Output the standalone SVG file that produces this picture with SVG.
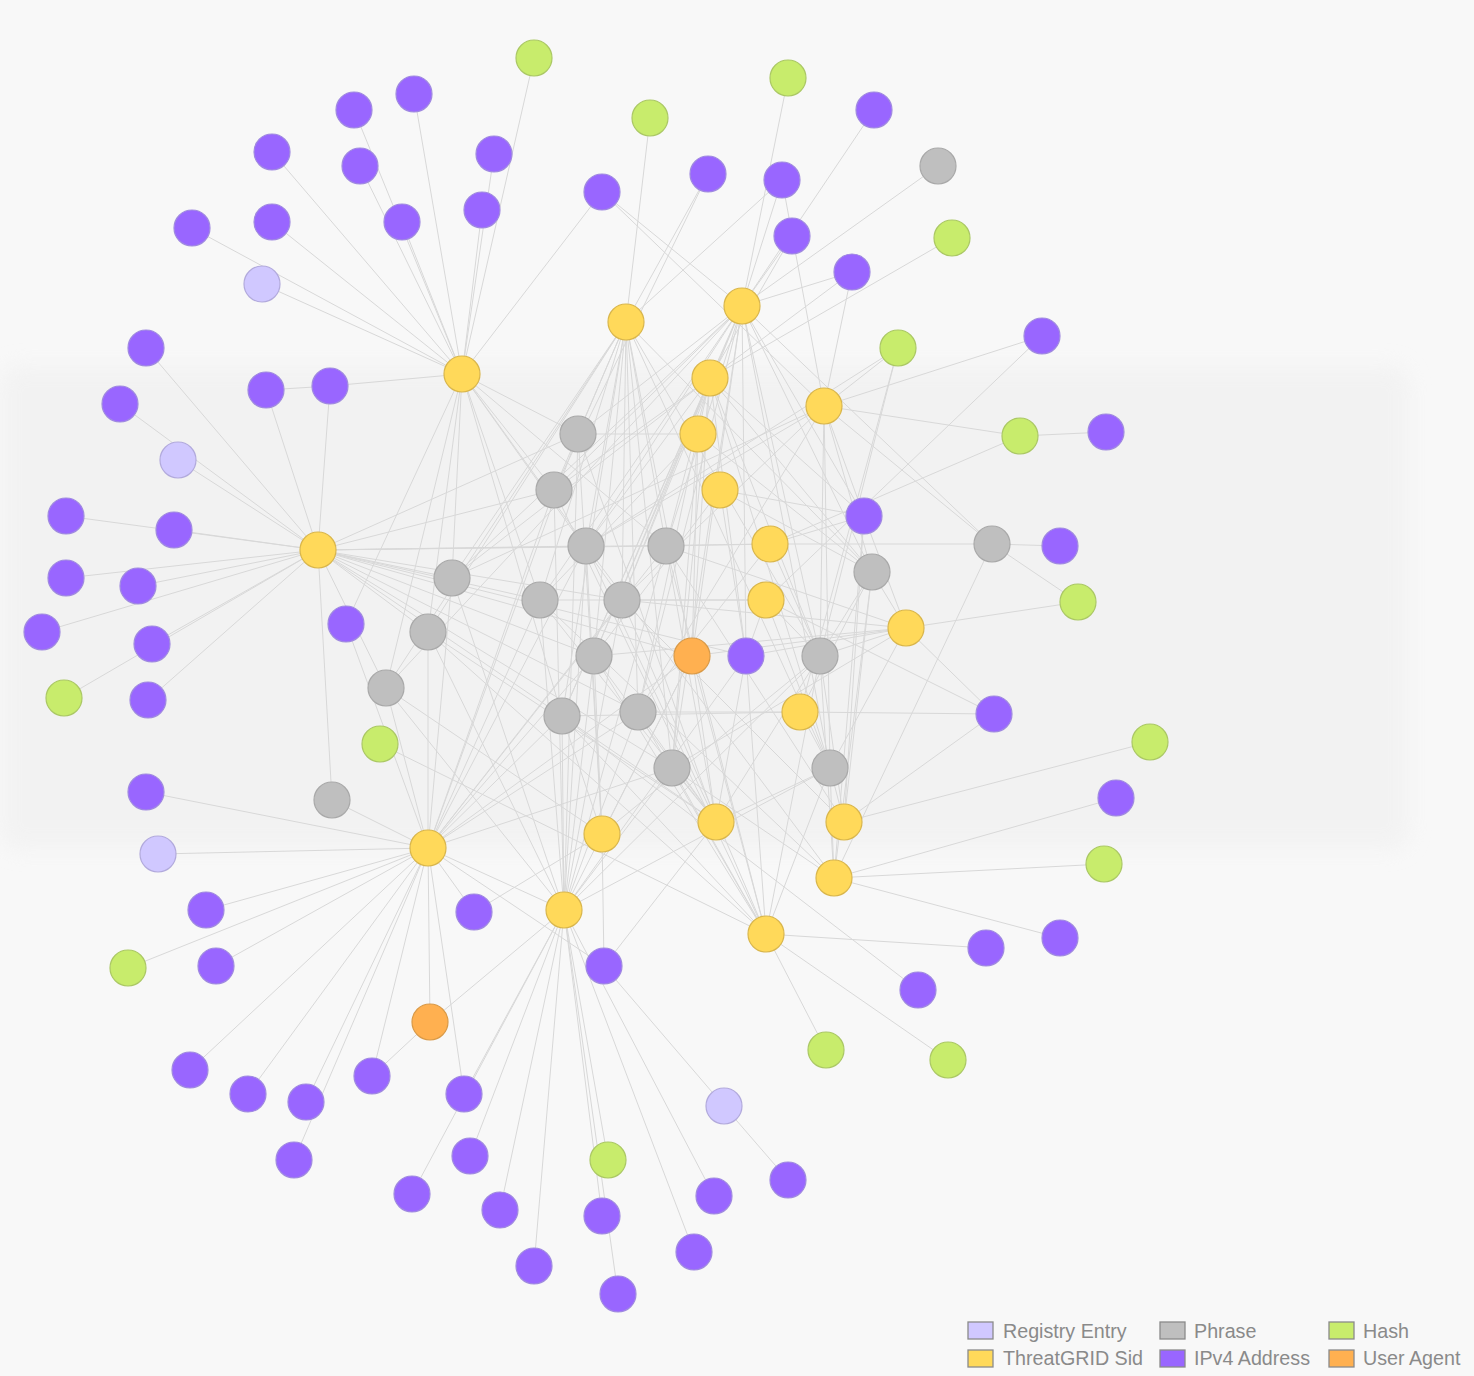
<svg xmlns="http://www.w3.org/2000/svg" width="1474" height="1376" viewBox="0 0 1474 1376">
<defs>
<style>
.e line{stroke:#d8d8d8;stroke-width:1;fill:none}
.n circle{stroke-width:1.2}
.ip circle{fill:#9966ff;stroke:#a08ae0}
.ts circle{fill:#ffd95a;stroke:#d9b64c}
.ph circle{fill:#bfbfbf;stroke:#a9a9a9}
.hs circle{fill:#c8ec6c;stroke:#abc865}
.re circle{fill:#d0c8ff;stroke:#b2aadc}
.ua circle{fill:#ffb050;stroke:#d99a48}
.lg rect{stroke:#8a8a8a;stroke-width:1.3}
.lg text{font-family:"Liberation Sans",Arial,sans-serif;font-size:19.7px;fill:#8a8a8a}
</style>
<filter id="bl" x="-5%" y="-10%" width="110%" height="120%"><feGaussianBlur stdDeviation="10"/></filter>
</defs>
<rect width="1474" height="1376" fill="#f8f8f8"/>
<g id="watermark" filter="url(#bl)" fill="#efefef" opacity="0.6">
<rect x="0" y="365" width="1410" height="485" rx="20"/>
</g>
<g id="connectors" class="e">
<line x1="534" y1="58" x2="462" y2="374"/>
<line x1="414" y1="94" x2="462" y2="374"/>
<line x1="354" y1="110" x2="462" y2="374"/>
<line x1="360" y1="166" x2="462" y2="374"/>
<line x1="272" y1="152" x2="462" y2="374"/>
<line x1="272" y1="222" x2="462" y2="374"/>
<line x1="192" y1="228" x2="462" y2="374"/>
<line x1="262" y1="284" x2="462" y2="374"/>
<line x1="402" y1="222" x2="462" y2="374"/>
<line x1="494" y1="154" x2="462" y2="374"/>
<line x1="482" y1="210" x2="462" y2="374"/>
<line x1="602" y1="192" x2="462" y2="374"/>
<line x1="330" y1="386" x2="462" y2="374"/>
<line x1="266" y1="390" x2="330" y2="386"/>
<line x1="146" y1="348" x2="318" y2="550"/>
<line x1="120" y1="404" x2="318" y2="550"/>
<line x1="178" y1="460" x2="318" y2="550"/>
<line x1="266" y1="390" x2="318" y2="550"/>
<line x1="330" y1="386" x2="318" y2="550"/>
<line x1="66" y1="516" x2="318" y2="550"/>
<line x1="174" y1="530" x2="318" y2="550"/>
<line x1="66" y1="578" x2="318" y2="550"/>
<line x1="138" y1="586" x2="318" y2="550"/>
<line x1="42" y1="632" x2="318" y2="550"/>
<line x1="152" y1="644" x2="318" y2="550"/>
<line x1="64" y1="698" x2="318" y2="550"/>
<line x1="148" y1="700" x2="318" y2="550"/>
<line x1="346" y1="624" x2="462" y2="374"/>
<line x1="346" y1="624" x2="428" y2="848"/>
<line x1="318" y1="550" x2="332" y2="800"/>
<line x1="332" y1="800" x2="428" y2="848"/>
<line x1="146" y1="792" x2="428" y2="848"/>
<line x1="158" y1="854" x2="428" y2="848"/>
<line x1="206" y1="910" x2="428" y2="848"/>
<line x1="128" y1="968" x2="428" y2="848"/>
<line x1="216" y1="966" x2="428" y2="848"/>
<line x1="190" y1="1070" x2="428" y2="848"/>
<line x1="248" y1="1094" x2="428" y2="848"/>
<line x1="306" y1="1102" x2="428" y2="848"/>
<line x1="294" y1="1160" x2="428" y2="848"/>
<line x1="372" y1="1076" x2="428" y2="848"/>
<line x1="372" y1="1076" x2="430" y2="1022"/>
<line x1="430" y1="1022" x2="428" y2="848"/>
<line x1="430" y1="1022" x2="564" y2="910"/>
<line x1="464" y1="1094" x2="428" y2="848"/>
<line x1="474" y1="912" x2="428" y2="848"/>
<line x1="474" y1="912" x2="602" y2="834"/>
<line x1="412" y1="1194" x2="564" y2="910"/>
<line x1="464" y1="1094" x2="564" y2="910"/>
<line x1="470" y1="1156" x2="564" y2="910"/>
<line x1="500" y1="1210" x2="564" y2="910"/>
<line x1="534" y1="1266" x2="564" y2="910"/>
<line x1="608" y1="1160" x2="564" y2="910"/>
<line x1="602" y1="1216" x2="564" y2="910"/>
<line x1="618" y1="1294" x2="564" y2="910"/>
<line x1="428" y1="848" x2="604" y2="966"/>
<line x1="428" y1="848" x2="564" y2="910"/>
<line x1="602" y1="834" x2="604" y2="966"/>
<line x1="604" y1="966" x2="716" y2="822"/>
<line x1="604" y1="966" x2="724" y2="1106"/>
<line x1="724" y1="1106" x2="788" y2="1180"/>
<line x1="714" y1="1196" x2="564" y2="910"/>
<line x1="694" y1="1252" x2="564" y2="910"/>
<line x1="766" y1="934" x2="986" y2="948"/>
<line x1="766" y1="934" x2="826" y2="1050"/>
<line x1="766" y1="934" x2="948" y2="1060"/>
<line x1="834" y1="878" x2="1104" y2="864"/>
<line x1="834" y1="878" x2="1060" y2="938"/>
<line x1="834" y1="878" x2="1116" y2="798"/>
<line x1="844" y1="822" x2="1150" y2="742"/>
<line x1="844" y1="822" x2="994" y2="714"/>
<line x1="800" y1="712" x2="994" y2="714"/>
<line x1="766" y1="600" x2="994" y2="714"/>
<line x1="906" y1="628" x2="994" y2="714"/>
<line x1="906" y1="628" x2="1078" y2="602"/>
<line x1="992" y1="544" x2="1060" y2="546"/>
<line x1="992" y1="544" x2="1078" y2="602"/>
<line x1="742" y1="306" x2="992" y2="544"/>
<line x1="824" y1="406" x2="992" y2="544"/>
<line x1="770" y1="544" x2="992" y2="544"/>
<line x1="992" y1="544" x2="834" y2="878"/>
<line x1="824" y1="406" x2="1020" y2="436"/>
<line x1="770" y1="544" x2="1020" y2="436"/>
<line x1="1020" y1="436" x2="1106" y2="432"/>
<line x1="824" y1="406" x2="1042" y2="336"/>
<line x1="1042" y1="336" x2="766" y2="600"/>
<line x1="898" y1="348" x2="824" y2="406"/>
<line x1="898" y1="348" x2="586" y2="546"/>
<line x1="898" y1="348" x2="800" y2="712"/>
<line x1="898" y1="348" x2="820" y2="656"/>
<line x1="952" y1="238" x2="710" y2="378"/>
<line x1="938" y1="166" x2="742" y2="306"/>
<line x1="874" y1="110" x2="742" y2="306"/>
<line x1="852" y1="272" x2="742" y2="306"/>
<line x1="852" y1="272" x2="710" y2="378"/>
<line x1="852" y1="272" x2="824" y2="406"/>
<line x1="792" y1="236" x2="742" y2="306"/>
<line x1="792" y1="236" x2="710" y2="378"/>
<line x1="782" y1="180" x2="824" y2="406"/>
<line x1="782" y1="180" x2="626" y2="322"/>
<line x1="782" y1="180" x2="742" y2="306"/>
<line x1="708" y1="174" x2="626" y2="322"/>
<line x1="708" y1="174" x2="554" y2="490"/>
<line x1="650" y1="118" x2="626" y2="322"/>
<line x1="788" y1="78" x2="742" y2="306"/>
<line x1="602" y1="192" x2="742" y2="306"/>
<line x1="602" y1="192" x2="824" y2="406"/>
<line x1="380" y1="744" x2="766" y2="934"/>
<line x1="918" y1="990" x2="562" y2="716"/>
<line x1="318" y1="550" x2="770" y2="544"/>
<line x1="562" y1="716" x2="800" y2="712"/>
<line x1="578" y1="434" x2="462" y2="374"/>
<line x1="578" y1="434" x2="318" y2="550"/>
<line x1="578" y1="434" x2="626" y2="322"/>
<line x1="578" y1="434" x2="742" y2="306"/>
<line x1="578" y1="434" x2="698" y2="434"/>
<line x1="578" y1="434" x2="428" y2="848"/>
<line x1="578" y1="434" x2="602" y2="834"/>
<line x1="578" y1="434" x2="564" y2="910"/>
<line x1="578" y1="434" x2="716" y2="822"/>
<line x1="554" y1="490" x2="462" y2="374"/>
<line x1="554" y1="490" x2="318" y2="550"/>
<line x1="554" y1="490" x2="626" y2="322"/>
<line x1="554" y1="490" x2="742" y2="306"/>
<line x1="554" y1="490" x2="710" y2="378"/>
<line x1="554" y1="490" x2="428" y2="848"/>
<line x1="554" y1="490" x2="564" y2="910"/>
<line x1="554" y1="490" x2="766" y2="934"/>
<line x1="586" y1="546" x2="462" y2="374"/>
<line x1="586" y1="546" x2="318" y2="550"/>
<line x1="586" y1="546" x2="626" y2="322"/>
<line x1="586" y1="546" x2="742" y2="306"/>
<line x1="586" y1="546" x2="710" y2="378"/>
<line x1="586" y1="546" x2="824" y2="406"/>
<line x1="586" y1="546" x2="428" y2="848"/>
<line x1="586" y1="546" x2="564" y2="910"/>
<line x1="586" y1="546" x2="602" y2="834"/>
<line x1="586" y1="546" x2="716" y2="822"/>
<line x1="586" y1="546" x2="834" y2="878"/>
<line x1="666" y1="546" x2="462" y2="374"/>
<line x1="666" y1="546" x2="318" y2="550"/>
<line x1="666" y1="546" x2="626" y2="322"/>
<line x1="666" y1="546" x2="742" y2="306"/>
<line x1="666" y1="546" x2="710" y2="378"/>
<line x1="666" y1="546" x2="770" y2="544"/>
<line x1="666" y1="546" x2="906" y2="628"/>
<line x1="666" y1="546" x2="428" y2="848"/>
<line x1="666" y1="546" x2="564" y2="910"/>
<line x1="666" y1="546" x2="716" y2="822"/>
<line x1="666" y1="546" x2="844" y2="822"/>
<line x1="666" y1="546" x2="766" y2="934"/>
<line x1="452" y1="578" x2="318" y2="550"/>
<line x1="452" y1="578" x2="462" y2="374"/>
<line x1="452" y1="578" x2="626" y2="322"/>
<line x1="452" y1="578" x2="742" y2="306"/>
<line x1="452" y1="578" x2="710" y2="378"/>
<line x1="452" y1="578" x2="824" y2="406"/>
<line x1="452" y1="578" x2="428" y2="848"/>
<line x1="452" y1="578" x2="564" y2="910"/>
<line x1="540" y1="600" x2="318" y2="550"/>
<line x1="540" y1="600" x2="462" y2="374"/>
<line x1="540" y1="600" x2="626" y2="322"/>
<line x1="540" y1="600" x2="742" y2="306"/>
<line x1="540" y1="600" x2="698" y2="434"/>
<line x1="540" y1="600" x2="766" y2="600"/>
<line x1="540" y1="600" x2="428" y2="848"/>
<line x1="540" y1="600" x2="564" y2="910"/>
<line x1="540" y1="600" x2="716" y2="822"/>
<line x1="540" y1="600" x2="834" y2="878"/>
<line x1="622" y1="600" x2="318" y2="550"/>
<line x1="622" y1="600" x2="462" y2="374"/>
<line x1="622" y1="600" x2="626" y2="322"/>
<line x1="622" y1="600" x2="742" y2="306"/>
<line x1="622" y1="600" x2="710" y2="378"/>
<line x1="622" y1="600" x2="824" y2="406"/>
<line x1="622" y1="600" x2="766" y2="600"/>
<line x1="622" y1="600" x2="906" y2="628"/>
<line x1="622" y1="600" x2="428" y2="848"/>
<line x1="622" y1="600" x2="564" y2="910"/>
<line x1="622" y1="600" x2="766" y2="934"/>
<line x1="622" y1="600" x2="844" y2="822"/>
<line x1="594" y1="656" x2="318" y2="550"/>
<line x1="594" y1="656" x2="626" y2="322"/>
<line x1="594" y1="656" x2="742" y2="306"/>
<line x1="594" y1="656" x2="710" y2="378"/>
<line x1="594" y1="656" x2="720" y2="490"/>
<line x1="594" y1="656" x2="906" y2="628"/>
<line x1="594" y1="656" x2="428" y2="848"/>
<line x1="594" y1="656" x2="564" y2="910"/>
<line x1="594" y1="656" x2="602" y2="834"/>
<line x1="594" y1="656" x2="716" y2="822"/>
<line x1="594" y1="656" x2="766" y2="934"/>
<line x1="820" y1="656" x2="626" y2="322"/>
<line x1="820" y1="656" x2="742" y2="306"/>
<line x1="820" y1="656" x2="710" y2="378"/>
<line x1="820" y1="656" x2="824" y2="406"/>
<line x1="820" y1="656" x2="906" y2="628"/>
<line x1="820" y1="656" x2="770" y2="544"/>
<line x1="820" y1="656" x2="766" y2="600"/>
<line x1="820" y1="656" x2="564" y2="910"/>
<line x1="820" y1="656" x2="602" y2="834"/>
<line x1="820" y1="656" x2="844" y2="822"/>
<line x1="820" y1="656" x2="834" y2="878"/>
<line x1="820" y1="656" x2="766" y2="934"/>
<line x1="872" y1="572" x2="626" y2="322"/>
<line x1="872" y1="572" x2="742" y2="306"/>
<line x1="872" y1="572" x2="710" y2="378"/>
<line x1="872" y1="572" x2="824" y2="406"/>
<line x1="872" y1="572" x2="698" y2="434"/>
<line x1="872" y1="572" x2="720" y2="490"/>
<line x1="872" y1="572" x2="906" y2="628"/>
<line x1="872" y1="572" x2="800" y2="712"/>
<line x1="872" y1="572" x2="844" y2="822"/>
<line x1="872" y1="572" x2="834" y2="878"/>
<line x1="872" y1="572" x2="716" y2="822"/>
<line x1="428" y1="632" x2="318" y2="550"/>
<line x1="428" y1="632" x2="462" y2="374"/>
<line x1="428" y1="632" x2="626" y2="322"/>
<line x1="428" y1="632" x2="428" y2="848"/>
<line x1="428" y1="632" x2="564" y2="910"/>
<line x1="428" y1="632" x2="716" y2="822"/>
<line x1="428" y1="632" x2="766" y2="934"/>
<line x1="386" y1="688" x2="318" y2="550"/>
<line x1="386" y1="688" x2="462" y2="374"/>
<line x1="386" y1="688" x2="626" y2="322"/>
<line x1="386" y1="688" x2="742" y2="306"/>
<line x1="386" y1="688" x2="428" y2="848"/>
<line x1="386" y1="688" x2="564" y2="910"/>
<line x1="386" y1="688" x2="602" y2="834"/>
<line x1="562" y1="716" x2="318" y2="550"/>
<line x1="562" y1="716" x2="462" y2="374"/>
<line x1="562" y1="716" x2="626" y2="322"/>
<line x1="562" y1="716" x2="742" y2="306"/>
<line x1="562" y1="716" x2="710" y2="378"/>
<line x1="562" y1="716" x2="428" y2="848"/>
<line x1="562" y1="716" x2="564" y2="910"/>
<line x1="562" y1="716" x2="602" y2="834"/>
<line x1="562" y1="716" x2="716" y2="822"/>
<line x1="562" y1="716" x2="766" y2="934"/>
<line x1="638" y1="712" x2="318" y2="550"/>
<line x1="638" y1="712" x2="626" y2="322"/>
<line x1="638" y1="712" x2="742" y2="306"/>
<line x1="638" y1="712" x2="710" y2="378"/>
<line x1="638" y1="712" x2="824" y2="406"/>
<line x1="638" y1="712" x2="770" y2="544"/>
<line x1="638" y1="712" x2="800" y2="712"/>
<line x1="638" y1="712" x2="428" y2="848"/>
<line x1="638" y1="712" x2="564" y2="910"/>
<line x1="638" y1="712" x2="716" y2="822"/>
<line x1="638" y1="712" x2="766" y2="934"/>
<line x1="672" y1="768" x2="318" y2="550"/>
<line x1="672" y1="768" x2="626" y2="322"/>
<line x1="672" y1="768" x2="742" y2="306"/>
<line x1="672" y1="768" x2="710" y2="378"/>
<line x1="672" y1="768" x2="698" y2="434"/>
<line x1="672" y1="768" x2="906" y2="628"/>
<line x1="672" y1="768" x2="428" y2="848"/>
<line x1="672" y1="768" x2="564" y2="910"/>
<line x1="672" y1="768" x2="716" y2="822"/>
<line x1="672" y1="768" x2="834" y2="878"/>
<line x1="672" y1="768" x2="766" y2="934"/>
<line x1="830" y1="768" x2="626" y2="322"/>
<line x1="830" y1="768" x2="742" y2="306"/>
<line x1="830" y1="768" x2="710" y2="378"/>
<line x1="830" y1="768" x2="824" y2="406"/>
<line x1="830" y1="768" x2="906" y2="628"/>
<line x1="830" y1="768" x2="800" y2="712"/>
<line x1="830" y1="768" x2="766" y2="600"/>
<line x1="830" y1="768" x2="564" y2="910"/>
<line x1="830" y1="768" x2="716" y2="822"/>
<line x1="830" y1="768" x2="844" y2="822"/>
<line x1="830" y1="768" x2="834" y2="878"/>
<line x1="830" y1="768" x2="766" y2="934"/>
<line x1="692" y1="656" x2="626" y2="322"/>
<line x1="692" y1="656" x2="742" y2="306"/>
<line x1="692" y1="656" x2="710" y2="378"/>
<line x1="692" y1="656" x2="698" y2="434"/>
<line x1="692" y1="656" x2="318" y2="550"/>
<line x1="692" y1="656" x2="428" y2="848"/>
<line x1="692" y1="656" x2="564" y2="910"/>
<line x1="692" y1="656" x2="602" y2="834"/>
<line x1="692" y1="656" x2="716" y2="822"/>
<line x1="692" y1="656" x2="766" y2="934"/>
<line x1="692" y1="656" x2="906" y2="628"/>
<line x1="746" y1="656" x2="766" y2="600"/>
<line x1="746" y1="656" x2="720" y2="490"/>
<line x1="746" y1="656" x2="742" y2="306"/>
<line x1="746" y1="656" x2="710" y2="378"/>
<line x1="746" y1="656" x2="906" y2="628"/>
<line x1="746" y1="656" x2="716" y2="822"/>
<line x1="746" y1="656" x2="766" y2="934"/>
<line x1="746" y1="656" x2="564" y2="910"/>
<line x1="746" y1="656" x2="318" y2="550"/>
<line x1="864" y1="516" x2="824" y2="406"/>
<line x1="864" y1="516" x2="742" y2="306"/>
<line x1="864" y1="516" x2="710" y2="378"/>
<line x1="864" y1="516" x2="906" y2="628"/>
<line x1="864" y1="516" x2="844" y2="822"/>
<line x1="864" y1="516" x2="834" y2="878"/>
<line x1="864" y1="516" x2="720" y2="490"/>
<line x1="864" y1="516" x2="770" y2="544"/>
</g>
<g id="nodes" class="n">
<g id="ts1" class="ts"><circle cx="462" cy="374" r="18"/></g>
<g id="ts2" class="ts"><circle cx="318" cy="550" r="18"/></g>
<g id="ts3" class="ts"><circle cx="428" cy="848" r="18"/></g>
<g id="ts4" class="ts"><circle cx="564" cy="910" r="18"/></g>
<g id="ts5" class="ts"><circle cx="626" cy="322" r="18"/></g>
<g id="ts6" class="ts"><circle cx="742" cy="306" r="18"/></g>
<g id="ts7" class="ts"><circle cx="710" cy="378" r="18"/></g>
<g id="ts8" class="ts"><circle cx="698" cy="434" r="18"/></g>
<g id="ts9" class="ts"><circle cx="720" cy="490" r="18"/></g>
<g id="ts10" class="ts"><circle cx="824" cy="406" r="18"/></g>
<g id="ts11" class="ts"><circle cx="770" cy="544" r="18"/></g>
<g id="ts12" class="ts"><circle cx="766" cy="600" r="18"/></g>
<g id="ts13" class="ts"><circle cx="906" cy="628" r="18"/></g>
<g id="ts14" class="ts"><circle cx="800" cy="712" r="18"/></g>
<g id="ts15" class="ts"><circle cx="602" cy="834" r="18"/></g>
<g id="ts16" class="ts"><circle cx="716" cy="822" r="18"/></g>
<g id="ts17" class="ts"><circle cx="844" cy="822" r="18"/></g>
<g id="ts18" class="ts"><circle cx="834" cy="878" r="18"/></g>
<g id="ts19" class="ts"><circle cx="766" cy="934" r="18"/></g>
<g id="ph1" class="ph"><circle cx="578" cy="434" r="18"/></g>
<g id="ph2" class="ph"><circle cx="554" cy="490" r="18"/></g>
<g id="ph3" class="ph"><circle cx="586" cy="546" r="18"/></g>
<g id="ph4" class="ph"><circle cx="666" cy="546" r="18"/></g>
<g id="ph5" class="ph"><circle cx="452" cy="578" r="18"/></g>
<g id="ph6" class="ph"><circle cx="540" cy="600" r="18"/></g>
<g id="ph7" class="ph"><circle cx="622" cy="600" r="18"/></g>
<g id="ph8" class="ph"><circle cx="594" cy="656" r="18"/></g>
<g id="ph9" class="ph"><circle cx="820" cy="656" r="18"/></g>
<g id="ph10" class="ph"><circle cx="872" cy="572" r="18"/></g>
<g id="ph11" class="ph"><circle cx="428" cy="632" r="18"/></g>
<g id="ph12" class="ph"><circle cx="386" cy="688" r="18"/></g>
<g id="ph13" class="ph"><circle cx="562" cy="716" r="18"/></g>
<g id="ph14" class="ph"><circle cx="638" cy="712" r="18"/></g>
<g id="ph15" class="ph"><circle cx="672" cy="768" r="18"/></g>
<g id="ph16" class="ph"><circle cx="830" cy="768" r="18"/></g>
<g id="ph17" class="ph"><circle cx="332" cy="800" r="18"/></g>
<g id="ph18" class="ph"><circle cx="992" cy="544" r="18"/></g>
<g id="ph19" class="ph"><circle cx="938" cy="166" r="18"/></g>
<g id="ua1" class="ua"><circle cx="692" cy="656" r="18"/></g>
<g id="ua2" class="ua"><circle cx="430" cy="1022" r="18"/></g>
<g id="re1" class="re"><circle cx="262" cy="284" r="18"/></g>
<g id="re2" class="re"><circle cx="178" cy="460" r="18"/></g>
<g id="re3" class="re"><circle cx="158" cy="854" r="18"/></g>
<g id="re4" class="re"><circle cx="724" cy="1106" r="18"/></g>
<g id="hs1" class="hs"><circle cx="534" cy="58" r="18"/></g>
<g id="hs2" class="hs"><circle cx="650" cy="118" r="18"/></g>
<g id="hs3" class="hs"><circle cx="788" cy="78" r="18"/></g>
<g id="hs4" class="hs"><circle cx="952" cy="238" r="18"/></g>
<g id="hs5" class="hs"><circle cx="898" cy="348" r="18"/></g>
<g id="hs6" class="hs"><circle cx="1020" cy="436" r="18"/></g>
<g id="hs7" class="hs"><circle cx="1078" cy="602" r="18"/></g>
<g id="hs8" class="hs"><circle cx="64" cy="698" r="18"/></g>
<g id="hs9" class="hs"><circle cx="380" cy="744" r="18"/></g>
<g id="hs10" class="hs"><circle cx="1150" cy="742" r="18"/></g>
<g id="hs11" class="hs"><circle cx="1104" cy="864" r="18"/></g>
<g id="hs12" class="hs"><circle cx="128" cy="968" r="18"/></g>
<g id="hs13" class="hs"><circle cx="826" cy="1050" r="18"/></g>
<g id="hs14" class="hs"><circle cx="948" cy="1060" r="18"/></g>
<g id="hs15" class="hs"><circle cx="608" cy="1160" r="18"/></g>
<g id="ip1" class="ip"><circle cx="414" cy="94" r="18"/></g>
<g id="ip2" class="ip"><circle cx="354" cy="110" r="18"/></g>
<g id="ip3" class="ip"><circle cx="272" cy="152" r="18"/></g>
<g id="ip4" class="ip"><circle cx="360" cy="166" r="18"/></g>
<g id="ip5" class="ip"><circle cx="494" cy="154" r="18"/></g>
<g id="ip6" class="ip"><circle cx="192" cy="228" r="18"/></g>
<g id="ip7" class="ip"><circle cx="272" cy="222" r="18"/></g>
<g id="ip8" class="ip"><circle cx="402" cy="222" r="18"/></g>
<g id="ip9" class="ip"><circle cx="482" cy="210" r="18"/></g>
<g id="ip10" class="ip"><circle cx="874" cy="110" r="18"/></g>
<g id="ip11" class="ip"><circle cx="708" cy="174" r="18"/></g>
<g id="ip12" class="ip"><circle cx="782" cy="180" r="18"/></g>
<g id="ip13" class="ip"><circle cx="602" cy="192" r="18"/></g>
<g id="ip14" class="ip"><circle cx="792" cy="236" r="18"/></g>
<g id="ip15" class="ip"><circle cx="852" cy="272" r="18"/></g>
<g id="ip16" class="ip"><circle cx="1042" cy="336" r="18"/></g>
<g id="ip17" class="ip"><circle cx="146" cy="348" r="18"/></g>
<g id="ip18" class="ip"><circle cx="266" cy="390" r="18"/></g>
<g id="ip19" class="ip"><circle cx="330" cy="386" r="18"/></g>
<g id="ip20" class="ip"><circle cx="120" cy="404" r="18"/></g>
<g id="ip21" class="ip"><circle cx="1106" cy="432" r="18"/></g>
<g id="ip22" class="ip"><circle cx="864" cy="516" r="18"/></g>
<g id="ip23" class="ip"><circle cx="66" cy="516" r="18"/></g>
<g id="ip24" class="ip"><circle cx="174" cy="530" r="18"/></g>
<g id="ip25" class="ip"><circle cx="1060" cy="546" r="18"/></g>
<g id="ip26" class="ip"><circle cx="66" cy="578" r="18"/></g>
<g id="ip27" class="ip"><circle cx="138" cy="586" r="18"/></g>
<g id="ip28" class="ip"><circle cx="42" cy="632" r="18"/></g>
<g id="ip29" class="ip"><circle cx="346" cy="624" r="18"/></g>
<g id="ip30" class="ip"><circle cx="152" cy="644" r="18"/></g>
<g id="ip31" class="ip"><circle cx="746" cy="656" r="18"/></g>
<g id="ip32" class="ip"><circle cx="148" cy="700" r="18"/></g>
<g id="ip33" class="ip"><circle cx="994" cy="714" r="18"/></g>
<g id="ip34" class="ip"><circle cx="146" cy="792" r="18"/></g>
<g id="ip35" class="ip"><circle cx="1116" cy="798" r="18"/></g>
<g id="ip36" class="ip"><circle cx="206" cy="910" r="18"/></g>
<g id="ip37" class="ip"><circle cx="474" cy="912" r="18"/></g>
<g id="ip38" class="ip"><circle cx="986" cy="948" r="18"/></g>
<g id="ip39" class="ip"><circle cx="1060" cy="938" r="18"/></g>
<g id="ip40" class="ip"><circle cx="216" cy="966" r="18"/></g>
<g id="ip41" class="ip"><circle cx="604" cy="966" r="18"/></g>
<g id="ip42" class="ip"><circle cx="918" cy="990" r="18"/></g>
<g id="ip43" class="ip"><circle cx="190" cy="1070" r="18"/></g>
<g id="ip44" class="ip"><circle cx="248" cy="1094" r="18"/></g>
<g id="ip45" class="ip"><circle cx="306" cy="1102" r="18"/></g>
<g id="ip46" class="ip"><circle cx="372" cy="1076" r="18"/></g>
<g id="ip47" class="ip"><circle cx="464" cy="1094" r="18"/></g>
<g id="ip48" class="ip"><circle cx="294" cy="1160" r="18"/></g>
<g id="ip49" class="ip"><circle cx="470" cy="1156" r="18"/></g>
<g id="ip50" class="ip"><circle cx="788" cy="1180" r="18"/></g>
<g id="ip51" class="ip"><circle cx="412" cy="1194" r="18"/></g>
<g id="ip52" class="ip"><circle cx="500" cy="1210" r="18"/></g>
<g id="ip53" class="ip"><circle cx="602" cy="1216" r="18"/></g>
<g id="ip54" class="ip"><circle cx="714" cy="1196" r="18"/></g>
<g id="ip55" class="ip"><circle cx="694" cy="1252" r="18"/></g>
<g id="ip56" class="ip"><circle cx="534" cy="1266" r="18"/></g>
<g id="ip57" class="ip"><circle cx="618" cy="1294" r="18"/></g>
</g>
<g id="legend" class="lg">
<rect x="968" y="1322" width="25" height="17" fill="#d0c8ff"/>
<text x="1003" y="1338">Registry Entry</text>
<rect x="1160" y="1322" width="25" height="17" fill="#bfbfbf"/>
<text x="1194" y="1338">Phrase</text>
<rect x="1329" y="1322" width="25" height="17" fill="#c8ec6c"/>
<text x="1363" y="1338">Hash</text>
<rect x="968" y="1350" width="25" height="17" fill="#ffd95a"/>
<text x="1003" y="1365">ThreatGRID Sid</text>
<rect x="1160" y="1350" width="25" height="17" fill="#9966ff"/>
<text x="1194" y="1365">IPv4 Address</text>
<rect x="1329" y="1350" width="25" height="17" fill="#ffb050"/>
<text x="1363" y="1365">User Agent</text>
</g>
</svg>
